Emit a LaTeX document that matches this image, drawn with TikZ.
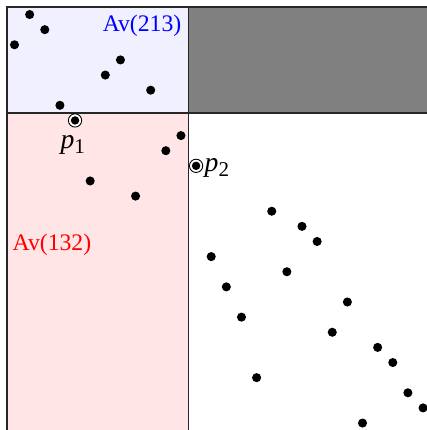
\documentclass[tikz,border=0pt]{standalone}
\usepackage{fontspec}
\setmainfont{Liberation Serif}
\usepackage{tikz}
\usetikzlibrary{positioning}

\newcommand{\pmark}[1]{\textit{p}\raisebox{-0.4ex}{\fontsize{9.5pt}{10pt}\selectfont #1}}

\begin{document}
\begin{tikzpicture}[
    x=0.24cm, y=-0.24cm,
    dot/.style={circle, fill=black, inner sep=0pt, minimum size=4.1pt},
    marked/.style={circle, draw=black, thin, fill=white, inner sep=0pt, minimum size=6pt,
        path picture={\fill[black] (path picture bounding box.center) circle (1.9pt);}},
    frame/.style={draw=black!85, semithick},
    label/.style={inner sep=1pt, font=\fontsize{10.7pt}{13pt}\selectfont},
    plabel/.style={inner sep=0.5pt, font=\fontsize{12.5pt}{14pt}\selectfont}
]

% Visible window
\clip (0.04,0.04) rectangle (28.26,28.46);

% Regions
\fill[blue!6] (0.5,0.5) rectangle (12.5,7.5);
\fill[red!10] (0.5,7.5) rectangle (12.5,28.5);
\fill[black!50] (12.5,0.5) rectangle (28.5,7.5);
\draw[frame] (0.5,0.5) rectangle (28.5,28.5);
\draw[frame] (0.5,7.5) -- (28.5,7.5);
\draw[frame] (12.5,0.5) -- (12.5,28.5);

% Points
\foreach \i/\j in {2/1, 3/2, 1/3, 8/4, 7/5, 10/6, 4/7, 12/9, 11/10, 6/12, 9/13,
    18/14, 20/15, 21/16, 14/17, 19/18, 15/19, 23/20, 16/21, 22/22, 25/23,
    26/24, 17/25, 27/26, 28/27, 24/28}
    \node[dot] (pt\i) at (\i,\j) {};

% Marked points
\node[marked] (p1) at (5,8) {};
\node[marked] (p2) at (13,11) {};
\node[plabel, below=3pt of p1, xshift=-1pt] (p1lab) {\pmark{1}};
\node[plabel, right=0pt of p2, yshift=-1pt] (p2lab) {\pmark{2}};

% Class labels
\node[label, blue, anchor=east] (av213) at (12.2,1.75) {Av(213)};
\node[label, red, anchor=west] (av132) at (0.7,16.25) {Av(132)};

\end{tikzpicture}
\end{document}
